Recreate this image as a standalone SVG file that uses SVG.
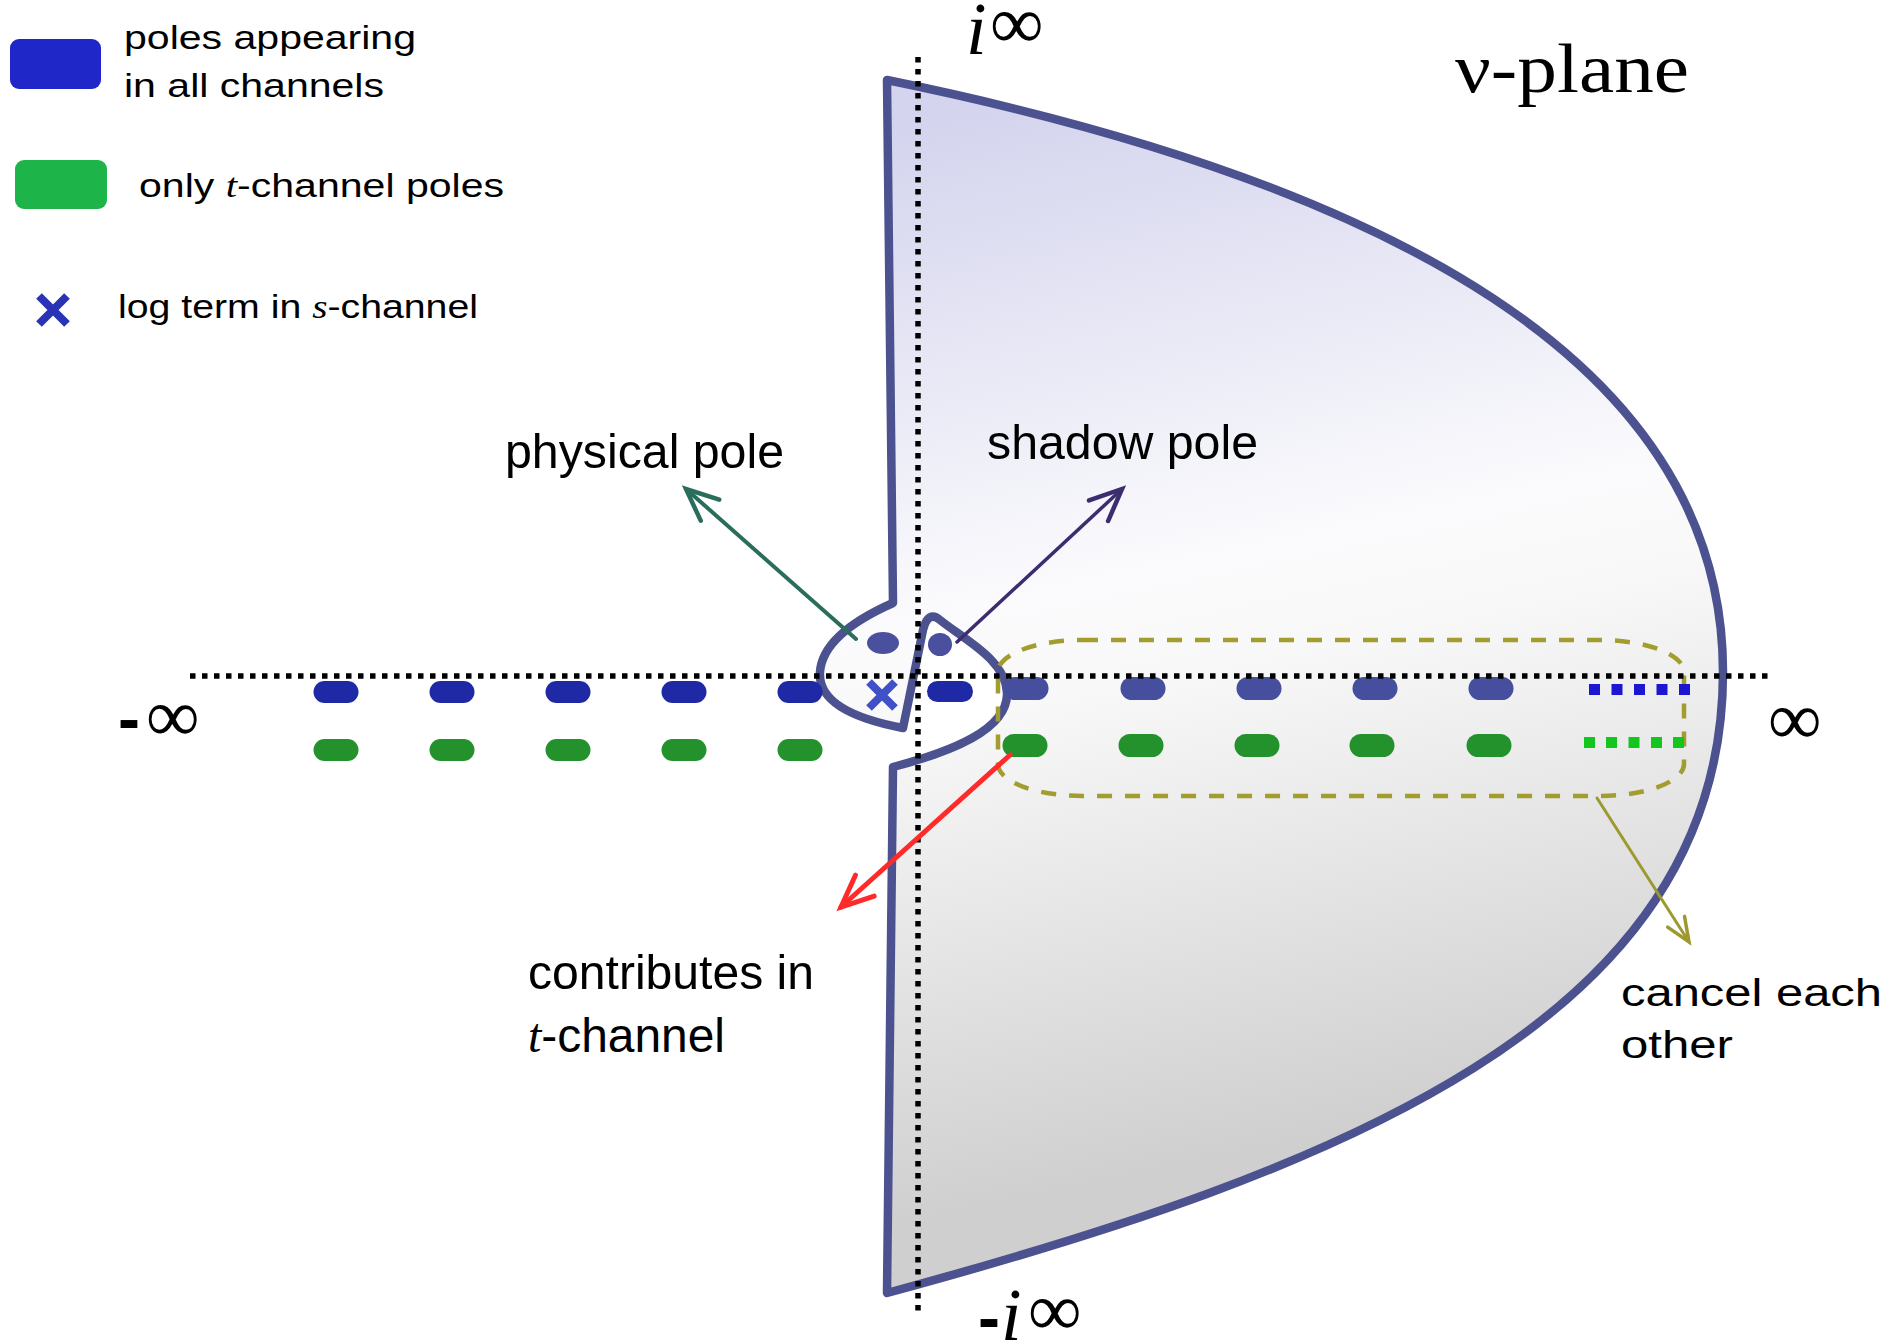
<svg xmlns="http://www.w3.org/2000/svg" width="1890" height="1343" viewBox="0 0 1890 1343">
<defs>
<linearGradient id="fillg" gradientUnits="userSpaceOnUse" x1="1040" y1="100" x2="1260" y2="1150">
<stop offset="0" stop-color="#d4d4ee"/>
<stop offset="0.45" stop-color="#fbfbfd"/>
<stop offset="0.55" stop-color="#f8f8f8"/>
<stop offset="1" stop-color="#cfcfcf"/>
</linearGradient>
<marker id="mTeal" markerUnits="userSpaceOnUse" markerWidth="44" markerHeight="44" viewBox="-38 -22 44 44" refX="0" refY="0" orient="auto" overflow="visible">
<path d="M-32,-14 L0,0 L-32,14" fill="none" stroke="#2b6d5d" stroke-width="4.5" stroke-linecap="round"/>
</marker>
<marker id="mPurple" markerUnits="userSpaceOnUse" markerWidth="44" markerHeight="44" viewBox="-38 -22 44 44" refX="0" refY="0" orient="auto" overflow="visible">
<path d="M-32,-14 L0,0 L-32,14" fill="none" stroke="#3d2c6f" stroke-width="4.5" stroke-linecap="round"/>
</marker>
<marker id="mRed" markerUnits="userSpaceOnUse" markerWidth="44" markerHeight="44" viewBox="-38 -22 44 44" refX="0" refY="0" orient="auto" overflow="visible">
<path d="M-32,-14 L0,0 L-32,14" fill="none" stroke="#ff2b2b" stroke-width="5" stroke-linecap="round"/>
</marker>
<marker id="mOlive" markerUnits="userSpaceOnUse" markerWidth="36" markerHeight="36" viewBox="-30 -18 36 36" refX="0" refY="0" orient="auto" overflow="visible">
<path d="M-24,-10 L0,0 L-24,10" fill="none" stroke="#9c9a2e" stroke-width="3.5" stroke-linecap="round"/>
</marker>
</defs>
<style>
.sans{font-family:"Liberation Sans",Arial,sans-serif;fill:#000}
.serif{font-family:"Liberation Serif","Times New Roman",serif;fill:#000}
.it{font-family:"Liberation Serif","Times New Roman",serif;font-style:italic}
.inf{font-family:"Liberation Serif","Times New Roman",serif;font-size:75px;fill:#000}
.bpL{fill:#2029a5}
.bpR{fill:#464e9e}
.gp{fill:#24922c}
.dots{stroke:#000;stroke-width:5.5;stroke-dasharray:5.5 6.5;fill:none}
.contour{fill:url(#fillg);stroke:#4b528f;stroke-width:8.5;stroke-linejoin:round}
.conn{fill:none;stroke-linecap:round}
</style>

<g id="contour">
<path class="contour" d="M887,80 C1387,182 1723,362 1723,672 C1723,1022 1337,1171 887,1293 L893,767 C950,752 1008,730 1007,693 C1006,660 965,640 940,620 Q928,610 923,630 L903,728 C850,718 818,700 820,672 C822,645 850,622 893,603 Z"/>
</g>

<g id="cancel-box">
<rect x="998" y="640" width="686" height="156" rx="85" ry="32" fill="none" stroke="#a39c2e" stroke-width="4.5" stroke-dasharray="15 13"/>
</g>

<g id="poles-left">
<rect class="bpL" x="313.5" y="681" width="45" height="22" rx="11"/>
<rect class="bpL" x="429.5" y="681" width="45" height="22" rx="11"/>
<rect class="bpL" x="545.5" y="681" width="45" height="22" rx="11"/>
<rect class="bpL" x="661.5" y="681" width="45" height="22" rx="11"/>
<rect class="bpL" x="777.5" y="681" width="45" height="22" rx="11"/>
<rect class="gp" x="313.5" y="739" width="45" height="22" rx="11"/>
<rect class="gp" x="429.5" y="739" width="45" height="22" rx="11"/>
<rect class="gp" x="545.5" y="739" width="45" height="22" rx="11"/>
<rect class="gp" x="661.5" y="739" width="45" height="22" rx="11"/>
<rect class="gp" x="777.5" y="739" width="45" height="22" rx="11"/>
</g>

<g id="poles-center">
<rect class="bpL" x="927" y="681" width="46" height="21" rx="10.5"/>
<ellipse cx="883" cy="643" rx="16" ry="11" fill="#4a509e"/>
<ellipse cx="940" cy="644.5" rx="12" ry="11.5" fill="#4a509e"/>
<path d="M869,682 L895,708 M895,682 L869,708" stroke="#4050c6" stroke-width="8" fill="none"/>
</g>

<g id="poles-right">
<rect class="bpR" x="1003.5" y="677" width="45" height="23" rx="11.5"/>
<rect class="bpR" x="1120.5" y="677" width="45" height="23" rx="11.5"/>
<rect class="bpR" x="1236.5" y="677" width="45" height="23" rx="11.5"/>
<rect class="bpR" x="1352.5" y="677" width="45" height="23" rx="11.5"/>
<rect class="bpR" x="1468.5" y="677" width="45" height="23" rx="11.5"/>
<rect class="gp" x="1002.5" y="734" width="45" height="23" rx="11.5"/>
<rect class="gp" x="1118.5" y="734" width="45" height="23" rx="11.5"/>
<rect class="gp" x="1234.5" y="734" width="45" height="23" rx="11.5"/>
<rect class="gp" x="1349.5" y="734" width="45" height="23" rx="11.5"/>
<rect class="gp" x="1466.5" y="734" width="45" height="23" rx="11.5"/>
<g fill="#1c16d2">
<rect x="1589" y="684" width="11" height="11"/>
<rect x="1611.5" y="684" width="11" height="11"/>
<rect x="1634" y="684" width="11" height="11"/>
<rect x="1656.5" y="684" width="11" height="11"/>
<rect x="1679" y="684" width="11" height="11"/>
</g>
<g fill="#12c61e">
<rect x="1584" y="737" width="11" height="11"/>
<rect x="1606" y="737" width="11" height="11"/>
<rect x="1628.5" y="737" width="11" height="11"/>
<rect x="1651" y="737" width="11" height="11"/>
<rect x="1673" y="737" width="11" height="11"/>
</g>
</g>

<g id="axes">
<line class="dots" x1="190" y1="676" x2="1768" y2="676"/>
<line class="dots" x1="918" y1="57" x2="918" y2="1317"/>
</g>

<g id="connectors">
<line class="conn" x1="856" y1="639" x2="686" y2="489" stroke="#2b6d5d" stroke-width="4" marker-end="url(#mTeal)"/>
<line class="conn" x1="957" y1="642" x2="1122" y2="489" stroke="#3d2c6f" stroke-width="3.5" marker-end="url(#mPurple)"/>
<line class="conn" x1="1010" y1="755" x2="841" y2="907" stroke="#ff2b2b" stroke-width="5" marker-end="url(#mRed)"/>
<line class="conn" x1="1597" y1="798" x2="1689" y2="942" stroke="#9c9a2e" stroke-width="3" marker-end="url(#mOlive)"/>
</g>

<g id="legend-all">
<rect x="10" y="39" width="91" height="50" rx="9" fill="#1f27c8"/>
<text class="sans" x="124" y="49" font-size="34" textLength="292" lengthAdjust="spacingAndGlyphs">poles appearing</text>
<text class="sans" x="124" y="97" font-size="34" textLength="260" lengthAdjust="spacingAndGlyphs">in all channels</text>
</g>
<g id="legend-t">
<rect x="15" y="160" width="92" height="49" rx="9" fill="#1db54a"/>
<text class="sans" x="139" y="197" font-size="34" textLength="365" lengthAdjust="spacingAndGlyphs">only <tspan class="it">t</tspan>-channel poles</text>
</g>
<g id="legend-log">
<path d="M39,296 L67,324 M67,296 L39,324" stroke="#2a33b5" stroke-width="8" fill="none"/>
<text class="sans" x="118" y="318" font-size="34" textLength="360" lengthAdjust="spacingAndGlyphs">log term in <tspan class="it">s</tspan>-channel</text>
</g>

<g id="label-physical"><text class="sans" x="505" y="468" font-size="48" textLength="279" lengthAdjust="spacingAndGlyphs">physical pole</text></g>
<g id="label-shadow"><text class="sans" x="987" y="459" font-size="48" textLength="271" lengthAdjust="spacingAndGlyphs">shadow pole</text></g>
<g id="label-contrib">
<text class="sans" x="528" y="989" font-size="48" textLength="286" lengthAdjust="spacingAndGlyphs">contributes in</text>
<text class="sans" x="528" y="1052" font-size="48" textLength="197" lengthAdjust="spacingAndGlyphs"><tspan class="it">t</tspan>-channel</text>
</g>
<g id="label-cancel">
<text class="sans" x="1621" y="1006" font-size="38" textLength="261" lengthAdjust="spacingAndGlyphs">cancel each</text>
<text class="sans" x="1621" y="1058" font-size="38" textLength="112" lengthAdjust="spacingAndGlyphs">other</text>
</g>
<g id="label-plane"><text class="serif" x="1455" y="92" font-size="70" textLength="234" lengthAdjust="spacingAndGlyphs">ν-plane</text></g>
<g id="label-iinf">
<text class="it" x="966" y="54" font-size="74">i</text>
<text class="inf" x="990" y="48">∞</text>
</g>
<g id="label-miinf">
<text class="sans" x="978" y="1340" font-size="66" font-weight="bold">-</text>
<text class="it" x="1001" y="1340" font-size="74">i</text>
<text class="inf" x="1028" y="1335">∞</text>
</g>
<g id="label-minf">
<text class="sans" x="118" y="741" font-size="66" font-weight="bold">-</text>
<text class="inf" x="146" y="741">∞</text>
</g>
<g id="label-inf"><text class="inf" x="1768" y="744">∞</text></g>
</svg>
